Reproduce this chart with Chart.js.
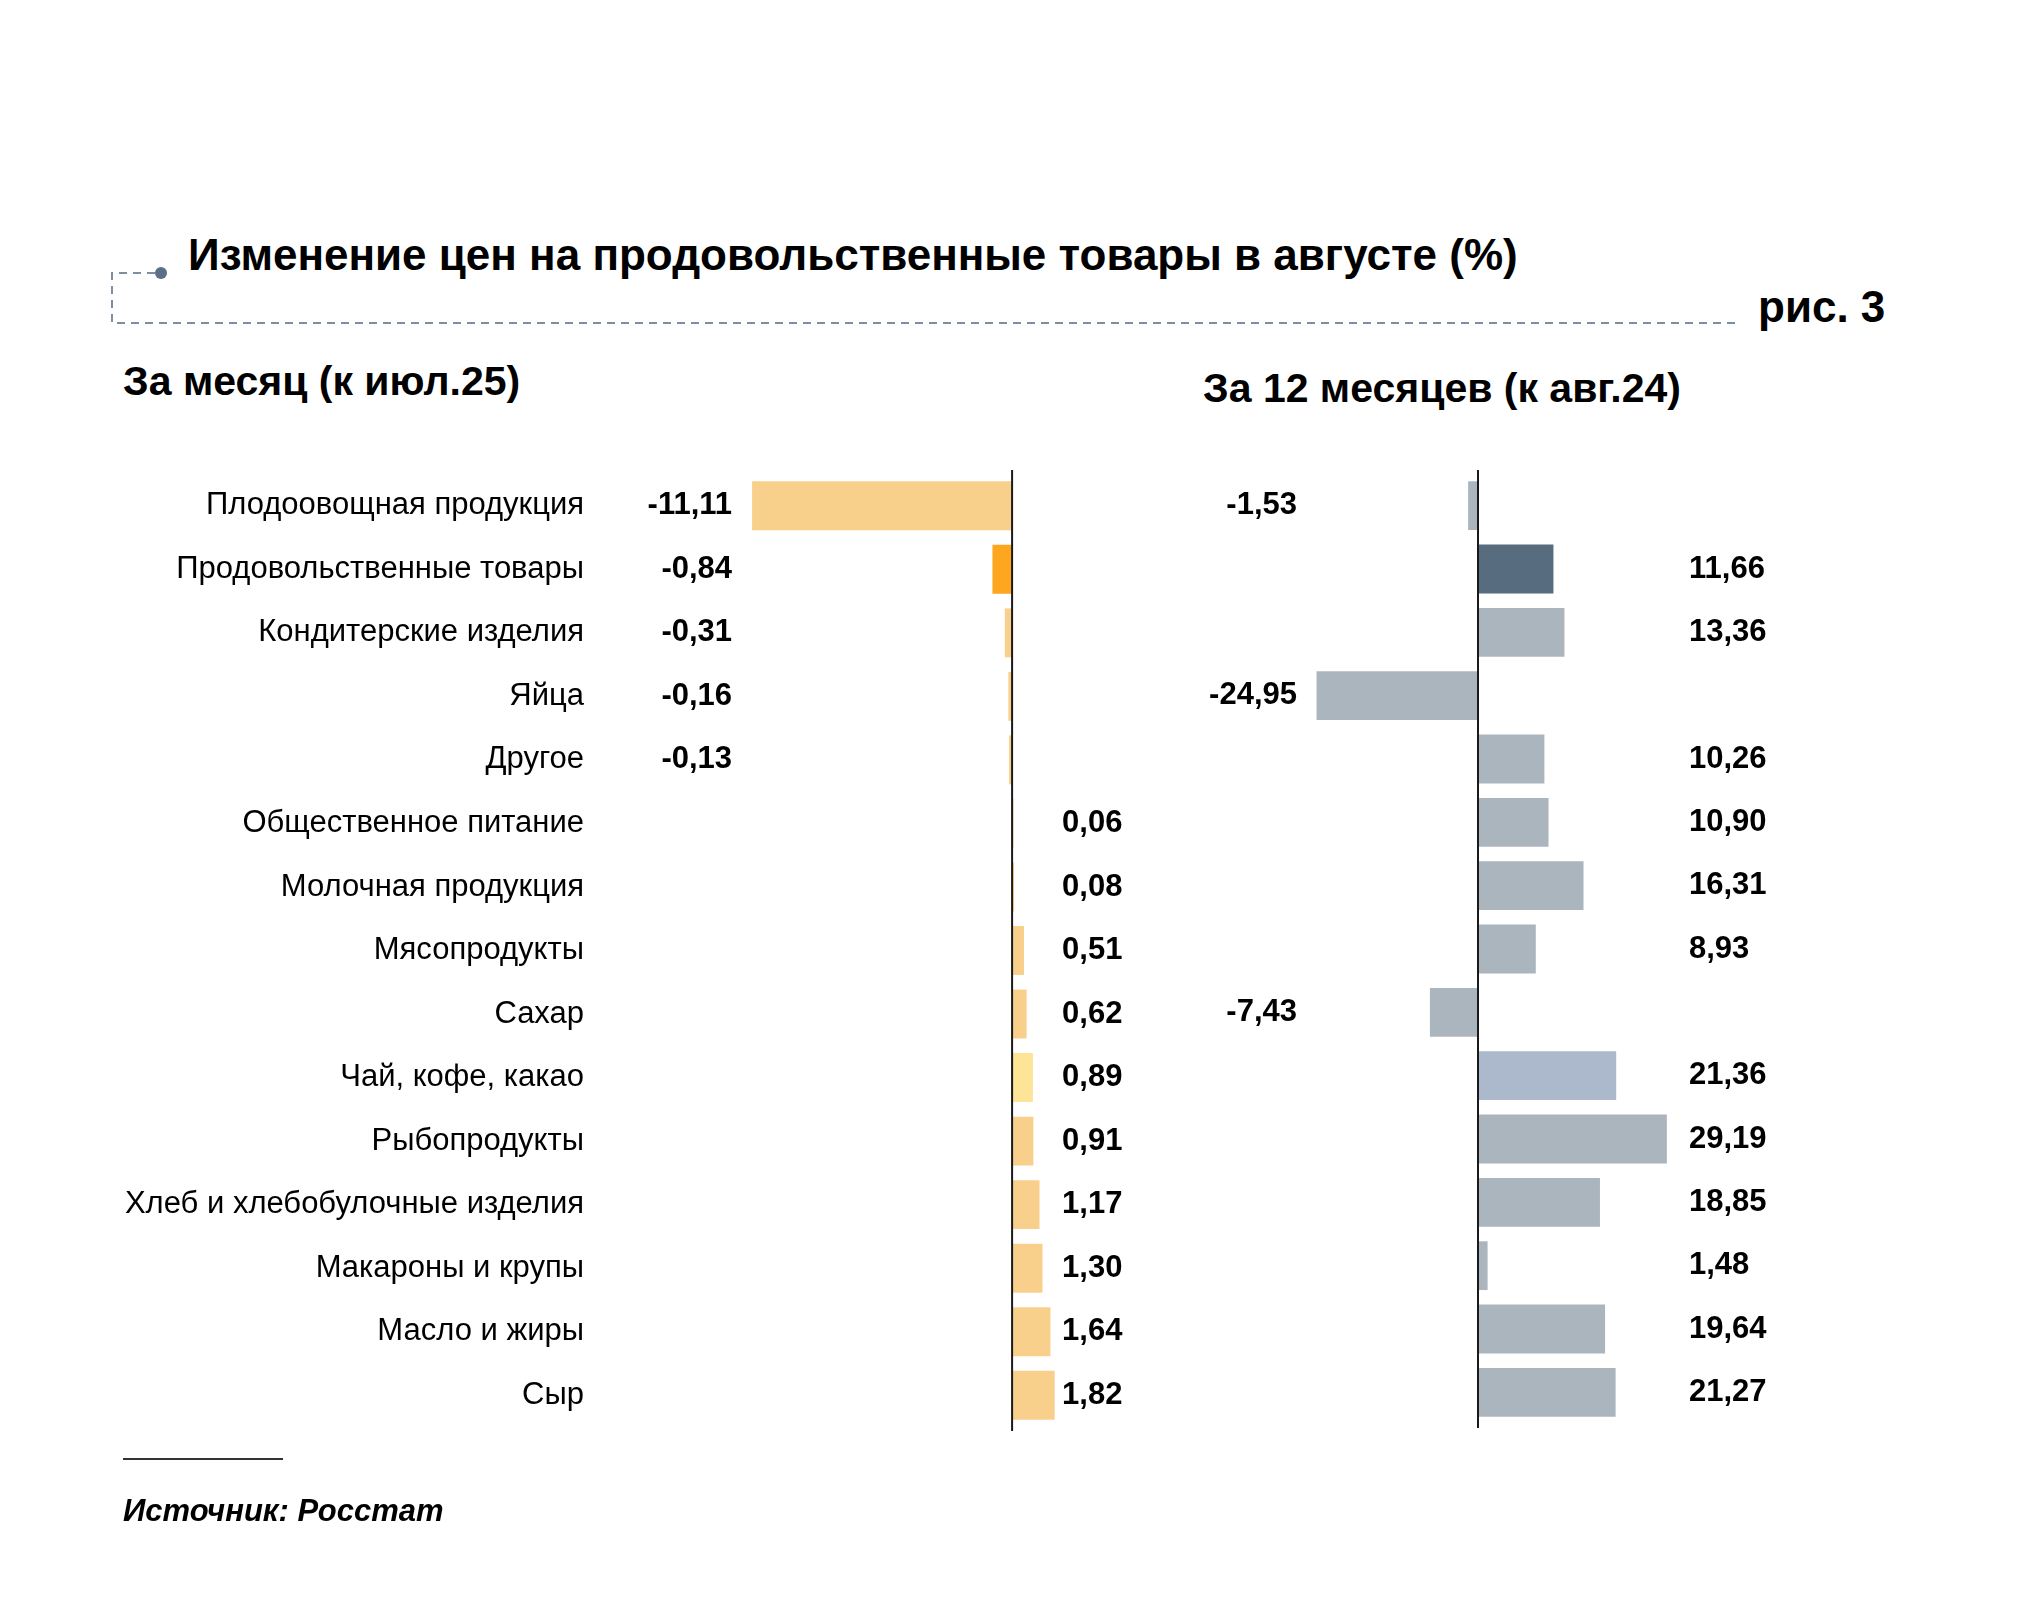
<!DOCTYPE html>
<html lang="ru">
<head>
<meta charset="utf-8">
<title>Изменение цен на продовольственные товары в августе (%)</title>
<script src="https://cdn.jsdelivr.net/npm/chart.js@4.4.1/dist/chart.umd.min.js"></script>
<style>
  html, body { margin: 0; padding: 0; background: #fff; }
  body { width: 2024px; height: 1619px; position: relative; overflow: hidden;
         font-family: "Liberation Sans", Arial, sans-serif; color: #000; }
  .t { position: absolute; white-space: nowrap; line-height: 1; font-weight: bold; }
  canvas { position: absolute; left: 0; top: 0; }
  #frame { position: absolute; left: 0; top: 0; }
</style>
</head>
<body>
<svg id="frame" width="2024" height="400">
  <path d="M155 273 H112 V323 H1736" fill="none" stroke="#7d8ea3" stroke-width="2" stroke-dasharray="8 6"/>
  <circle cx="161" cy="273" r="6" fill="#5b6f87"/>
</svg>
<div class="t" style="left:188px; top:233px; font-size:44px;">Изменение цен на продовольственные товары в августе (%)</div>
<div class="t" style="left:1758px; top:285px; font-size:44px;">рис. 3</div>
<div class="t" style="left:123px; top:361px; font-size:41px;">За месяц (к июл.25)</div>
<div class="t" style="left:1203px; top:368px; font-size:41px;">За 12 месяцев (к авг.24)</div>

<canvas id="chart-month" width="2024" height="1619"></canvas>
<canvas id="chart-year" width="2024" height="1619"></canvas>

<div style="position:absolute; left:123px; top:1458px; width:160px; height:2px; background:#333;"></div>
<div class="t" style="left:123px; top:1495px; font-size:31px; font-style:italic;">Источник: Росстат</div>

<script>
// ─── Data ───────────────────────────────────────────────────────────────────
const categories = [
  'Плодоовощная продукция', 'Продовольственные товары', 'Кондитерские изделия',
  'Яйца', 'Другое', 'Общественное питание', 'Молочная продукция', 'Мясопродукты',
  'Сахар', 'Чай, кофе, какао', 'Рыбопродукты', 'Хлеб и хлебобулочные изделия',
  'Макароны и крупы', 'Масло и жиры', 'Сыр',
];
const monthChange = [-11.11, -0.84, -0.31, -0.16, -0.13, 0.06, 0.08, 0.51, 0.62, 0.89, 0.91, 1.17, 1.30, 1.64, 1.82];
const yearChange  = [-1.53, 11.66, 13.36, -24.95, 10.26, 10.90, 16.31, 8.93, -7.43, 21.36, 29.19, 18.85, 1.48, 19.64, 21.27];

// bar colours (index = category)
const ORANGE = '#f9cf8c', GREY = '#abb5be';
const monthColors = categories.map((c, i) => i === 1 ? '#fda61e' : i === 9 ? '#fde497' : ORANGE);
const yearColors  = categories.map((c, i) => i === 1 ? '#586c80' : i === 9 ? '#acb8cb' : GREY);

const FONT = '"Liberation Sans", Arial, sans-serif';
const fmtVal = v => v.toFixed(2).replace('.', ',');

// zero line, value labels in fixed columns, optional category names
const labelsPlugin = {
  id: 'labels',
  afterDatasetsDraw(chart, args, o) {
    const { ctx, chartArea, scales: { x, y } } = chart;
    const zero = x.getPixelForValue(0);
    ctx.save();
    ctx.strokeStyle = '#1a1a1a';
    ctx.lineWidth = 2;
    ctx.beginPath();
    ctx.moveTo(zero, chartArea.top - 4);
    ctx.lineTo(zero, chartArea.bottom + 4);
    ctx.stroke();

    ctx.fillStyle = '#000';
    ctx.textBaseline = 'middle';
    ctx.font = `bold 31px ${FONT}`;
    chart.data.datasets[0].data.forEach((v, i) => {
      const yy = y.getPixelForValue(i);
      if (v < 0) { ctx.textAlign = 'right'; ctx.fillText(fmtVal(v), zero - o.negGap, yy); }
      else       { ctx.textAlign = 'left';  ctx.fillText(fmtVal(v), zero + o.posGap, yy); }
    });
    if (o.catRight) {
      ctx.font = `31px ${FONT}`;
      ctx.textAlign = 'right';
      chart.data.labels.forEach((l, i) => ctx.fillText(l, o.catRight, y.getPixelForValue(i)));
    }
    ctx.restore();
  },
};

function makeChart(id, data, colors, scaleX, padding, labelOpts) {
  return new Chart(document.getElementById(id), {
    type: 'bar',
    data: {
      labels: categories,
      datasets: [{ data, backgroundColor: colors, borderWidth: 0, barPercentage: 0.77, categoryPercentage: 1 }],
    },
    options: {
      indexAxis: 'y',
      responsive: false,
      animation: false,
      devicePixelRatio: 1,
      layout: { padding },
      scales: {
        x: { type: 'linear', display: false, min: scaleX.min, max: scaleX.max },
        y: { display: false },
      },
      plugins: { legend: { display: false }, tooltip: { enabled: false }, labels: labelOpts },
    },
    plugins: [labelsPlugin],
  });
}

// За месяц: ~23.4 px per point, zero at x=1012
makeChart('chart-month', monthChange, monthColors,
  { min: -17.61, max: 8.03 },
  { left: 600, right: 824, top: 474, bottom: 192 },
  { negGap: 280, posGap: 50, catRight: 584 });

// За 12 месяцев: ~6.47 px per point, zero at x=1478
makeChart('chart-year', yearChange, yearColors,
  { min: -42.97, max: 49.77 },
  { left: 1200, right: 224, top: 474, bottom: 195 },
  { negGap: 181, posGap: 211 });
</script>
</body>
</html>
